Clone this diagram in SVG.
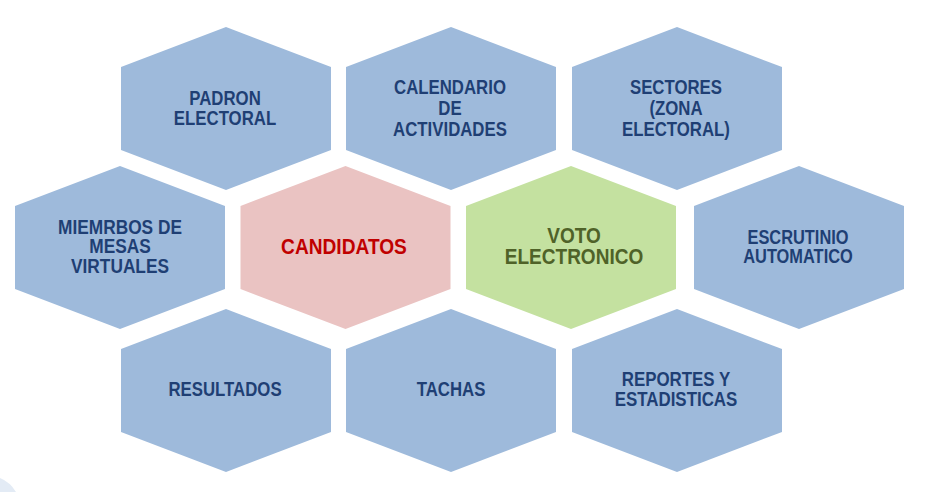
<svg xmlns="http://www.w3.org/2000/svg" width="936" height="492" viewBox="0 0 936 492">
<defs>
<style>
.hx{stroke:none}
.blue{fill:#9EBADB}
.pink{fill:#EAC3C2}
.green{fill:#C4E1A0}
.t{font-family:"Liberation Sans",Arial,sans-serif;font-weight:bold;text-anchor:middle}
.tb{fill:#1F3F74;font-size:20px}
.tr{fill:#C00000;font-size:22px}
.tg{fill:#4F6228;font-size:22px}
</style>
<polygon id="hex" points="0,0 105,40 105,123 0,163 -105,123 -105,40"/>
</defs>
<rect width="936" height="492" fill="#FFFFFF"/>
<g id="connectors"></g>
<path d="M0,478 Q10,482 16,492 L0,492 Z" fill="#E3EBF5"/>

<g id="padron">
<use href="#hex" class="hx blue" x="226" y="27"/>
<text class="t tb" transform="matrix(0.84 0 0 1 225 0)"><tspan x="0" y="105">PADRON</tspan><tspan x="0" y="125.5">ELECTORAL</tspan></text>
</g>
<g id="calendario">
<use href="#hex" class="hx blue" x="451" y="27"/>
<text class="t tb" transform="matrix(0.84 0 0 1 450 0)"><tspan x="0" y="94">CALENDARIO</tspan><tspan x="0" y="115">DE</tspan><tspan x="0" y="136">ACTIVIDADES</tspan></text>
</g>
<g id="sectores">
<use href="#hex" class="hx blue" x="677" y="27"/>
<text class="t tb" transform="matrix(0.84 0 0 1 676 0)"><tspan x="0" y="94">SECTORES</tspan><tspan x="0" y="115">(ZONA</tspan><tspan x="0" y="136">ELECTORAL)</tspan></text>
</g>
<g id="miembros">
<use href="#hex" class="hx blue" x="120" y="166"/>
<text class="t tb" transform="matrix(0.865 0 0 1 120 0)"><tspan x="0" y="234">MIEMRBOS DE</tspan><tspan x="0" y="253.5">MESAS</tspan><tspan x="0" y="273">VIRTUALES</tspan></text>
</g>
<g id="candidatos">
<use href="#hex" class="hx pink" x="345.5" y="166"/>
<text class="t tr" transform="matrix(0.87 0 0 1 344 0)"><tspan x="0" y="254">CANDIDATOS</tspan></text>
</g>
<g id="voto">
<use href="#hex" class="hx green" x="571" y="166"/>
<text class="t tg" transform="matrix(0.865 0 0 1 574 0)"><tspan x="0" y="243.5">VOTO</tspan><tspan x="0" y="264.5">ELECTRONICO</tspan></text>
</g>
<g id="escrutinio">
<use href="#hex" class="hx blue" x="799" y="166"/>
<text class="t tb" transform="matrix(0.82 0 0 1 798 0)"><tspan x="0" y="244">ESCRUTINIO</tspan><tspan x="0" y="263">AUTOMATICO</tspan></text>
</g>
<g id="resultados">
<use href="#hex" class="hx blue" x="226" y="309"/>
<text class="t tb" transform="matrix(0.84 0 0 1 225 0)"><tspan x="0" y="396.5">RESULTADOS</tspan></text>
</g>
<g id="tachas">
<use href="#hex" class="hx blue" x="451" y="309"/>
<text class="t tb" transform="matrix(0.84 0 0 1 451 0)"><tspan x="0" y="396.5">TACHAS</tspan></text>
</g>
<g id="reportes">
<use href="#hex" class="hx blue" x="677" y="309"/>
<text class="t tb" transform="matrix(0.845 0 0 1 676 0)"><tspan x="0" y="386.5">REPORTES Y</tspan><tspan x="0" y="406.5">ESTADISTICAS</tspan></text>
</g>
</svg>
